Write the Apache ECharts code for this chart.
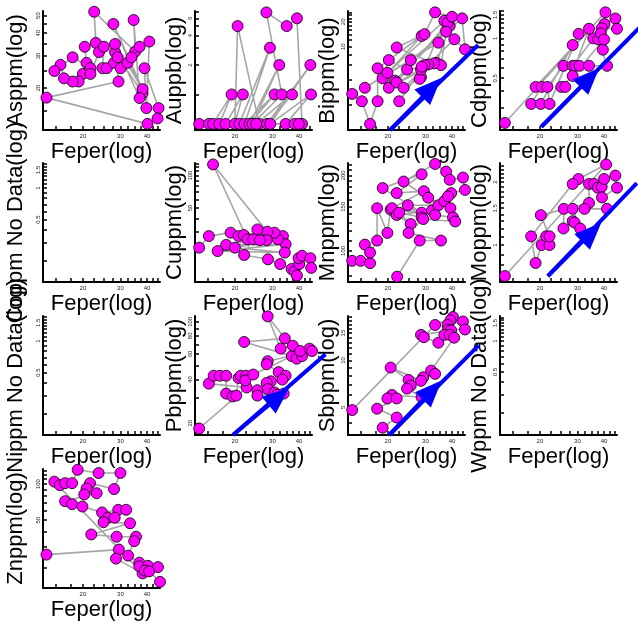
<!DOCTYPE html>
<html><head><meta charset="utf-8">
<script src="https://cdn.jsdelivr.net/npm/echarts@6/dist/echarts.min.js"></script>
<style>html,body{margin:0;padding:0;background:#fff}#c{width:638px;height:626px}</style>
</head><body><div id="c"></div>
<script>
// ---------- tick labels ----------
const xLabelValues = [20, 30, 40];
const xTickValues = [15, 17.5, 20, 22.5, 25, 27.5, 30, 32.5, 35, 37.5, 40, 42.5, 45];

// ---------- data (Fe per cent vs element) ----------
const feAs = [40.2,13.5,29.4,28.3,38.1,27.8,38.1,28.3,36.9,34.6,35.2,22.6,23,20.4,20.8,20,19.1,17.9,16.3,15.7,14.7,17.9,21.7,21.7,23.8,25.1,24.7,25.9,28.0,29.1,30.1,32.4,33.8,36.9,41,39.7,38.9,45.3,44.8];
const asPpm = [12.7,17.7,21.7,31.5,18.7,45,19.7,34.9,17.6,47.3,31.7,52.5,35.4,33.7,27.5,23.9,21.7,21.7,22.6,26.8,24.8,29.5,25.7,23.9,31.5,33.7,25.7,25.7,27.5,29.5,25.7,27.5,29.5,33.7,36,15.5,25.7,15.5,13.6];

const feAu = [13.6,15.1,15.8,19.3,16.9,18.1,21.8,20,20.6,26,21,29.2,22.2,30.7,23.4,32.3,24.2,33.2,28.1,35,39.1,41.3,25.2,37.1,28.3,45.2,29.3,45.5,34.6,38.1,39.9];
const auPpb = [0.5,0.5,0.5,1,0.5,0.5,1,0.5,5,0.5,0.5,3,0.5,1,0.5,2,0.5,1,6.9,5,6,0.5,0.5,1,0.5,2,0.5,1,0.5,0.5,0.5];

const feBi = [13.6,15.1,16.5,17.9,17.9,28.8,18.9,20.2,28.6,36.8,19.9,20.2,33.8,39,21.6,24.6,35.5,38.1,22,32.9,22,29.7,33.3,40,34.5,15.6,25.6,37.5,44.6,46,41,30.9,23.7,28.2,29.7,22.6,28.6,28.8];
const biPpm = [2.7,2.2,1.17,2.2,5.5,13.5,4.15,6.9,4.3,20.6,4.85,3.2,6.4,17.8,3.9,5.3,6.0,19.5,3.7,6.3,9.8,14.2,26,23,11.2,3.2,6.9,15.2,22,9.3,12.3,6.1,3.2,4.1,6.0,2.2,5.3,5.75];

const feCd = [13.7,40.6,19.1,20.4,18.2,20.2,28.5,30.4,22.2,21.7,25.8,28.5,40.2,45.2,46,39,39.5,35.6,34,29.3,30.7,34,41.3,37.6,38.6,40,28.5,25.2,26.3];
const cdPpm = [0.23,1.57,0.43,0.43,0.32,0.32,0.89,1.08,0.32,0.43,0.62,0.62,1.28,1.41,1.18,1.19,0.82,1.0,1.18,0.62,0.62,0.62,0.62,0.98,1.09,0.98,0.52,0.43,0.43];

const feCu = [13.6,15.1,19.1,33.6,18.2,34.6,16.6,34.3,20,31.8,20.8,30.7,22,28.4,15.8,22.9,28.2,24.4,26.2,25.5,22.1,28.6,32.6,36.9,38.1,39.1,40.1,39.8,41.3,45.2,45.6];
const cuPpm = [21.3,27.3,29.4,27.3,22.6,22.9,19.8,19.2,21.3,25.5,27.3,29.4,27.9,30,127,25.5,25,25.5,25,31.5,18.2,16.6,15,13.5,12.8,11.7,15,17,17.9,17,13.8];

const feMn = [13.6,14.9,16.5,15.6,16.5,17.8,17.8,19.9,20.6,28.8,18.9,28.8,22,29.5,20.9,32.2,22,25.6,22.6,28.8,24.8,34.5,23.7,33.3,37.5,39,45,46,39.6,36.8,38.3,39.3,30.9,33.3,40.4,41.4,29.3,25,35.5,28.2,22.1];
const mnPpm = [91.3,91.3,89.4,106,98.5,110,148,118,146,142,178,202,170,173,148,145,139,128,142,136,152,152,189,222,207,192,196,175,170,158,165,148,163,139,136,131,134,118,110,110,79];

const feMo = [13.7,40.9,30.3,28.5,18.2,19.1,20.4,21.4,22.2,22.2,20.2,34,34,35.9,37.4,39,40,45.2,46,39.1,41.3,32.4,25.9,25.8,28.5,29.1,30.9,28.5];
const moPpm = [0.71,2.43,2.07,1.96,1.1,0.82,1.0,1.1,1.0,1.1,1.39,1.59,1.96,1.96,1.88,1.9,2.07,2.15,1.88,1.69,1.49,1.49,1.49,1.2,1.3,1.28,1.2,1.49];

const fePb = [13.6,22.7,15.1,15.9,17,18.2,18.2,19.5,20.3,20.8,21.3,22.6,22.4,24.4,37,22.1,34.3,28.5,32.8,37.4,39,41.3,40.5,44.8,46,28.5,28.2,32.1,34.6,33.4,29.5,28.2,28.5,25.5,25.5,30.7,31.6,33.9];
const pbPpm = [18.4,35.3,37.5,42.5,42.5,42.5,32,30.6,31,41,42.5,42.5,39.5,43.3,58,72.6,76.9,109,65.3,68.4,55.7,58,62.9,65.3,62.9,53.5,51,45,42.5,40,38.9,37.9,34.4,33.8,31,32.6,31.5,32];

const feSb = [13.6,33.3,40.4,39.3,38.1,45,46,38.3,39.6,28.6,29.5,34.5,36.8,39,40.9,31.9,33.3,29.3,28.6,20.6,25,25.6,24.6,28.8,20.9,19.9,22,17.8,22,18.9];
const sbPpm = [4.8,16.9,19,18.1,16.9,17.8,15.8,15.8,15.6,14.6,14.1,13.0,14.6,14.6,14.0,8.6,8.2,7.8,7.4,9.0,7.5,6.9,6.6,5.8,6.0,5.7,5.7,4.9,4.3,3.7];

const feZn = [13.5,29.5,28.6,38.1,14.7,15.6,16.5,17.8,18.9,23.7,30,28,21.6,20.8,20.3,23.2,16.5,17.8,19.9,24.6,29.3,31.9,26.2,28.2,25,33.3,21.9,28.8,35.5,34.8,32.6,36.8,36.8,40.4,45,39,40.9,46];
const znPpm = [25.7,28.3,23.8,17.9,105,98,102,102,132,124,124,91,102,92,82,84,72,68,65,58,61,61,52.4,52.4,48,47,37.9,36.3,36.3,33.3,25.2,22,20.5,20.7,20.2,18.9,18.6,15.2];

// trend arrows: [start, arrow head, end] in (Fe, value)
const arrowBi = [[20.5, 0.99], [32.1, 3.22], [53, 10.5]];
const arrowCd = [[20.3, 0.215], [34.3, 0.506], [60, 1.25]];
const arrowMo = [[21.8, 0.71], [35, 1.15], [57, 1.98]];
const arrowPb = [[19.6, 16.6], [32.2, 30.6], [53.2, 59.7]];
const arrowSb = [[20.3, 3.32], [32.3, 6.44], [53.3, 12.5]];

// y tick labels / ticks
const yLabAs = [20, 30, 40, 50], yTickAs = [15, 20, 25, 30, 35, 40, 45, 50];
const yLabAu = [2, 4, 6], yTickAu = [1, 2, 3, 4, 5, 6, 7];
const yLabBi = [10, 20], yTickBi = [2, 4, 6, 8, 10, 12, 14, 16, 18, 20, 22, 24, 26];
const yLabCd = [0.5, 1, 1.5], yTickCd = [0.3, 0.4, 0.5, 0.6, 0.7, 0.8, 0.9, 1, 1.1, 1.2, 1.3, 1.4, 1.5, 1.6];
const yLabNone = [0.5, 1, 1.5], yTickNone = [0.2, 0.3, 0.4, 0.5, 0.6, 0.7, 0.8, 0.9, 1, 1.1, 1.2, 1.3, 1.4, 1.5, 1.6, 1.7];
const yLabCu = [50, 100], yTickCu = [20, 30, 40, 50, 60, 70, 80, 90, 100, 110, 120, 130];
const yLabMn = [100, 150, 200], yTickMn = [80, 90, 100, 110, 120, 130, 140, 150, 160, 170, 180, 190, 200, 210, 220];
const yLabMo = [1, 1.5, 2], yTickMo = [0.7, 0.8, 0.9, 1, 1.1, 1.2, 1.3, 1.4, 1.5, 1.6, 1.7, 1.8, 1.9, 2, 2.1, 2.2, 2.3, 2.4];
const yLabPb = [20, 40, 60, 80, 100], yTickPb = [20, 30, 40, 50, 60, 70, 80, 90, 100];
const yLabSb = [5, 10, 15], yTickSb = [4, 5, 6, 7, 8, 9, 10, 11, 12, 13, 14, 15, 16, 17, 18, 19];
const yLabZn = [50, 100], yTickZn = [20, 30, 40, 50, 60, 70, 80, 90, 100, 110, 120, 130];

const panels = [
  {title: 'Asppm(log)', x: feAs, y: asPpm, yMin: 11.75, yMax: 53, lab: yLabAs, tick: yTickAs},
  {title: 'Auppb(log)', x: feAu, y: auPpb, yMin: 0.433, yMax: 7.13, lab: yLabAu, tick: yTickAu},
  {title: 'Bippm(log)', x: feBi, y: biPpm, yMin: 0.99, yMax: 27, lab: yLabBi, tick: yTickBi, arrow: arrowBi},
  {title: 'Cdppm(log)', x: feCd, y: cdPpm, yMin: 0.2035, yMax: 1.606, lab: yLabCd, tick: yTickCd, arrow: arrowCd},
  {title: 'Coppm No Data(log)', x: [], y: [], yMin: 0.126, yMax: 1.74, lab: yLabNone, tick: yTickNone},
  {title: 'Cuppm(log)', x: feCu, y: cuPpm, yMin: 10.2, yMax: 131, lab: yLabCu, tick: yTickCu},
  {title: 'Mnppm(log)', x: feMn, y: mnPpm, yMin: 75.2, yMax: 224, lab: yLabMn, tick: yTickMn},
  {title: 'Moppm(log)', x: feMo, y: moPpm, yMin: 0.665, yMax: 2.47, lab: yLabMo, tick: yTickMo, arrow: arrowMo},
  {title: 'Nippm No Data(log)', x: [], y: [], yMin: 0.126, yMax: 1.74, lab: yLabNone, tick: yTickNone},
  {title: 'Pbppm(log)', x: fePb, y: pbPpm, yMin: 16.6, yMax: 109.6, lab: yLabPb, tick: yTickPb, arrow: arrowPb},
  {title: 'Sbppm(log)', x: feSb, y: sbPpm, yMin: 3.32, yMax: 19.3, lab: yLabSb, tick: yTickSb, arrow: arrowSb},
  {title: 'Wppm No Data(log)', x: [], y: [], yMin: 0.12, yMax: 1.76, lab: yLabNone, tick: yTickNone},
  {title: 'Znppm(log)', x: feZn, y: znPpm, yMin: 13.5, yMax: 134, lab: yLabZn, tick: yTickZn}
];

// ---------- layout ----------
const colLeft = [43, 195, 348, 500];
const rowTop = [11, 163, 316, 469];
const plotW = 117, plotH = 119;
const yNameGap = [16, 9, 7, 5];
const FONT = 'Liberation Sans, Arial, sans-serif';

const grid = [], xAxis = [], yAxis = [], series = [];
panels.forEach((p, i) => {
  const col = i % 4, row = Math.floor(i / 4);
  grid.push({left: colLeft[col], top: rowTop[row], width: plotW, height: plotH, containLabel: false});
  xAxis.push({
    type: 'log', logBase: 10, gridIndex: i, min: 13, max: 46,
    name: 'Feper(log)', nameLocation: 'middle', nameGap: 11,
    nameTextStyle: {fontSize: 22, color: '#000', fontFamily: FONT},
    axisLine: {show: true, lineStyle: {color: '#000', width: 2}},
    axisTick: {show: true, inside: true, length: 4, customValues: xTickValues, lineStyle: {color: '#000', width: 1.5}},
    axisLabel: {show: true, customValues: xLabelValues, fontSize: 6, margin: 3, color: '#222', fontFamily: FONT},
    splitLine: {show: false}
  });
  yAxis.push({
    type: 'log', logBase: 10, gridIndex: i, min: p.yMin, max: p.yMax,
    name: p.title, nameLocation: 'middle', nameGap: yNameGap[col], nameRotate: 90,
    nameTextStyle: {fontSize: 22, color: '#000', fontFamily: FONT},
    axisLine: {show: true, lineStyle: {color: '#000', width: 2}},
    axisTick: {show: true, inside: true, length: 4, customValues: p.tick, lineStyle: {color: '#000', width: 1.5}},
    axisLabel: {show: true, customValues: p.lab, fontSize: 6, margin: 2, rotate: 90, color: '#222', fontFamily: FONT},
    splitLine: {show: false}
  });
  series.push({
    type: 'line', xAxisIndex: i, yAxisIndex: i,
    data: p.x.map((v, k) => [v, p.y[k]]),
    symbol: 'circle', symbolSize: 11, showSymbol: true, clip: false,
    lineStyle: {color: '#a6a6a6', width: 1.6},
    itemStyle: {color: '#ff00ff', borderColor: '#000', borderWidth: 0.8},
    animation: false, silent: true, z: 2
  });
  if (p.arrow) {
    series.push({
      type: 'lines', coordinateSystem: 'cartesian2d', xAxisIndex: i, yAxisIndex: i,
      clip: false, symbol: ['none', 'none'],
      lineStyle: {color: '#0000ff', width: 4, opacity: 1, curveness: 0},
      data: [{coords: [p.arrow[0], p.arrow[2]]}], animation: false, silent: true, z: 5
    });
    series.push({
      type: 'lines', coordinateSystem: 'cartesian2d', xAxisIndex: i, yAxisIndex: i,
      clip: false, symbol: ['none', 'triangle'], symbolSize: [0, [22, 27]],
      lineStyle: {color: '#0000ff', width: 4, opacity: 1, curveness: 0},
      data: [{coords: [p.arrow[0], p.arrow[1]]}], animation: false, silent: true, z: 5
    });
  }
});

const chart = echarts.init(document.getElementById('c'), null, {renderer: 'canvas'});
chart.setOption({animation: false, backgroundColor: '#fff', grid, xAxis, yAxis, series});
</script></body></html>
